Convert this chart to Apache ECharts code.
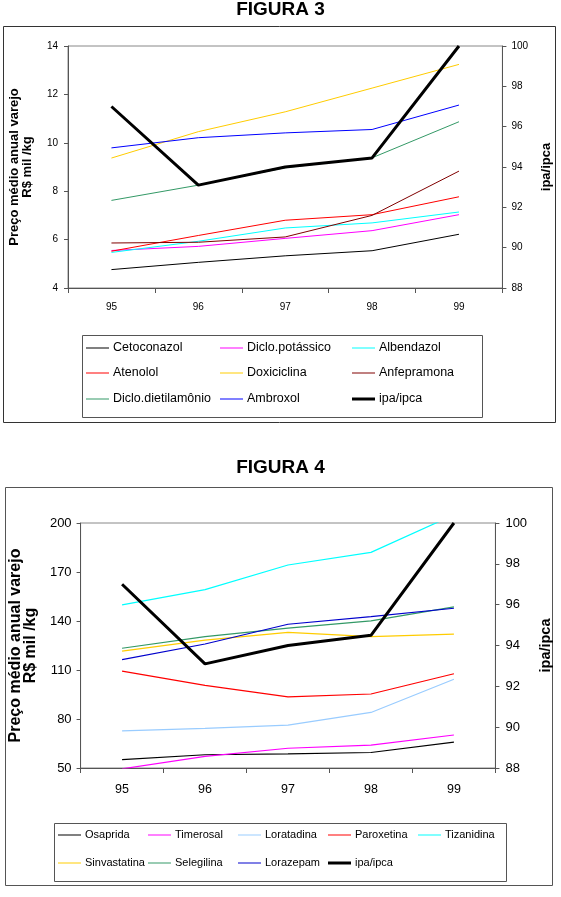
<!DOCTYPE html>
<html>
<head>
<meta charset="utf-8">
<script src="https://cdn.jsdelivr.net/npm/echarts@6/dist/echarts.min.js"></script>
<style>
html,body{margin:0;padding:0;background:#fff;}
#c{width:561px;height:897px;}
</style>
</head>
<body>
<div id="c"></div>
<script>
// ---------- DATA ----------
const years = ['95', '96', '97', '98', '99'];

// FIGURA 3
const fig3Names = ['Cetoconazol', 'Diclo.potássico', 'Albendazol', 'Atenolol', 'Doxiciclina', 'Anfepramona', 'Diclo.dietilamônio', 'Ambroxol'];
const cetoconazol = [4.76, 5.06, 5.33, 5.54, 6.22];
const dicloPotassico = [5.55, 5.72, 6.05, 6.37, 7.03];
const albendazol = [5.47, 5.93, 6.48, 6.69, 7.14];
const atenolol = [5.52, 6.17, 6.80, 7.03, 7.77];
const doxiciclina = [9.37, 10.46, 11.28, 12.26, 13.24];
const anfepramona = [5.86, 5.89, 6.11, 7.00, 8.83];
const dicloDietilamonio = [7.62, 8.25, 8.97, 9.38, 10.87];
const ambroxol = [9.79, 10.21, 10.41, 10.55, 11.56];
const ipaIpca3 = [97.0, 93.1, 94.0, 94.45, 100.0];
const fig3LeftTicks = [4, 6, 8, 10, 12, 14];
const fig3RightTicks = [88, 90, 92, 94, 96, 98, 100];

// FIGURA 4
const fig4Names = ['Osaprida', 'Timerosal', 'Loratadina', 'Paroxetina', 'Tizanidina', 'Sinvastatina', 'Selegilina', 'Lorazepam'];
const osaprida = [55.1, 58.1, 58.7, 59.5, 65.8];
const timerosal = [49.5, 57.1, 62.1, 64.0, 70.2];
const loratadina = [72.7, 74.3, 76.3, 84.0, 104.3];
const paroxetina = [109.3, 100.6, 93.5, 95.3, 107.7];
const tizanidina = [149.9, 159.2, 174.3, 182.0, 205.0];
const sinvastatina = [121.5, 128.3, 133.0, 130.4, 132.0];
const selegilina = [123.3, 130.4, 135.6, 140.1, 148.6];
const lorazepam = [116.4, 125.9, 138.0, 142.7, 147.8];
const ipaIpca4 = [97.0, 93.1, 94.0, 94.5, 100.0];
const fig4LeftTicks = [50, 80, 110, 140, 170, 200];
const fig4RightTicks = [88, 90, 92, 94, 96, 98, 100];

// ---------- STYLE ----------
const fig3Colors = ['#000000', '#FF00FF', '#00FFFF', '#FF0000', '#FFCC00', '#800000', '#339966', '#0000FF'];
const fig4Colors = ['#000000', '#FF00FF', '#99CCFF', '#FF0000', '#00FFFF', '#FFCC00', '#339966', '#0000CC'];
const fig3Data = [cetoconazol, dicloPotassico, albendazol, atenolol, doxiciclina, anfepramona, dicloDietilamonio, ambroxol];
const fig4Data = [osaprida, timerosal, loratadina, paroxetina, tizanidina, sinvastatina, selegilina, lorazepam];

const F = "'Liberation Sans', Arial, sans-serif";
const axisCol = '#555';

const series = [];
fig3Names.forEach((n, i) => series.push({
  name: n, type: 'line', xAxisIndex: 0, yAxisIndex: 0, data: fig3Data[i],
  symbol: 'none', color: fig3Colors[i], lineStyle: {width: 1, color: fig3Colors[i]}
}));
series.push({name: 'ipa/ipca', type: 'line', xAxisIndex: 0, yAxisIndex: 1, data: ipaIpca3,
  symbol: 'none', color: '#000', lineStyle: {width: 3, color: '#000'}, z: 5});
fig4Names.forEach((n, i) => series.push({
  name: n, type: 'line', xAxisIndex: 1, yAxisIndex: 2, data: fig4Data[i],
  symbol: 'none', color: fig4Colors[i], lineStyle: {width: 1.2, color: fig4Colors[i]}
}));
series.push({name: 'ipa/ipca', type: 'line', xAxisIndex: 1, yAxisIndex: 3, data: ipaIpca4,
  symbol: 'none', color: '#000', lineStyle: {width: 3, color: '#000'}, z: 5});

// legends
const legends = [];
function addLegend(name, left, cy, thick, size, color) {
  legends.push({
    data: [{name: name, icon: 'rect', itemStyle: {color: color}}],
    left: left, top: cy - 7, padding: 0, orient: 'horizontal',
    itemWidth: 23, itemHeight: thick ? 3 : 1, itemGap: 0,
    selectedMode: false,
    textStyle: {fontFamily: F, fontSize: size, color: '#000', lineHeight: 14, padding: [0, 0, 0, -1]}
  });
}
const l3cols = [86, 220, 352];
const l3rows = [348, 373, 399];
const l3items = fig3Names.concat(['ipa/ipca']);
const l3colors = fig3Colors.concat(['#000']);
l3items.forEach((n, i) => addLegend(n, l3cols[i % 3], l3rows[Math.floor(i / 3)], n === 'ipa/ipca', 12.5, l3colors[i]));
const l4cols = [58, 148, 238, 328, 418];
const l4rows = [835, 863];
const l4items = fig4Names.concat(['ipa/ipca']);
const l4colors = fig4Colors.concat(['#000']);
l4items.forEach((n, i) => addLegend(n, l4cols[i % 5], l4rows[Math.floor(i / 5)], n === 'ipa/ipca', 11, l4colors[i]));

function xAx(gi, size, margin) {
  return {
    type: 'category', gridIndex: gi, data: years, boundaryGap: true,
    axisLine: {show: true, lineStyle: {color: axisCol, width: 1}},
    axisTick: {show: true, alignWithLabel: false, length: 5, lineStyle: {color: axisCol}},
    axisLabel: {fontFamily: F, fontSize: size, color: '#000', margin: margin},
    splitLine: {show: false}
  };
}
function yAx(gi, pos, min, max, ticks, size, margin, name, nameSize, nameGap, lh) {
  return {
    type: 'value', gridIndex: gi, position: pos, min: min, max: max,
    axisLine: {show: true, lineStyle: {color: axisCol, width: 1}},
    axisTick: {show: true, length: 4, customValues: ticks, lineStyle: {color: axisCol}},
    axisLabel: {fontFamily: F, fontSize: size, color: '#000', margin: margin, customValues: ticks},
    splitLine: {show: false},
    name: name, nameLocation: 'middle', nameRotate: 90, nameGap: nameGap,
    nameTextStyle: {fontFamily: F, fontWeight: 'bold', fontSize: nameSize, color: '#000', lineHeight: lh, align: 'center'}
  };
}

const option = {
  animation: false,
  backgroundColor: '#fff',
  title: [
    {text: 'FIGURA 3', left: 'center', top: 0, padding: 0,
      textStyle: {fontFamily: F, fontWeight: 'bold', fontSize: 19, color: '#000'}},
    {text: 'FIGURA 4', left: 'center', top: 458, padding: 0,
      textStyle: {fontFamily: F, fontWeight: 'bold', fontSize: 19, color: '#000'}}
  ],
  graphic: [
    {type: 'rect', shape: {x: 3.5, y: 26.5, width: 552, height: 396}, style: {fill: 'none', stroke: '#333', lineWidth: 1}, z: -1},
    {type: 'rect', shape: {x: 82.5, y: 335.5, width: 400, height: 82}, style: {fill: 'none', stroke: '#555', lineWidth: 1}, z: -1},
    {type: 'rect', shape: {x: 5.5, y: 487.5, width: 547, height: 398}, style: {fill: 'none', stroke: '#555', lineWidth: 1}, z: -1},
    {type: 'rect', shape: {x: 54.5, y: 823.5, width: 452, height: 58}, style: {fill: 'none', stroke: '#555', lineWidth: 1}, z: -1}
  ],
  grid: [
    {left: 65, right: 58, top: 46, height: 242, show: true, borderColor: '#888', borderWidth: 1, backgroundColor: 'transparent'},
    {left: 79, right: 65, top: 523, height: 245, show: true, borderColor: '#888', borderWidth: 1, backgroundColor: 'transparent'}
  ],
  legend: legends,
  xAxis: [xAx(0, 10, 14), xAx(1, 12.5, 15)],
  yAxis: [
    yAx(0, 'left', 4, 14, fig3LeftTicks, 10, 10, 'Preço médio anual varejo\nR$ mil /kg', 13, 34, 13),
    yAx(0, 'right', 88, 100, fig3RightTicks, 10, 9, 'ipa/ipca', 13, 26, 14),
    yAx(1, 'left', 50, 200, fig4LeftTicks, 13, 9, 'Preço médio anual varejo\nR$ mil /kg', 16, 40, 15),
    yAx(1, 'right', 88, 100, fig4RightTicks, 13, 10, 'ipa/ipca', 14.5, 31, 15)
  ],
  series: series
};
const chart = echarts.init(document.getElementById('c'), null, {renderer: 'canvas'});
chart.setOption(option);
</script>
</body>
</html>
